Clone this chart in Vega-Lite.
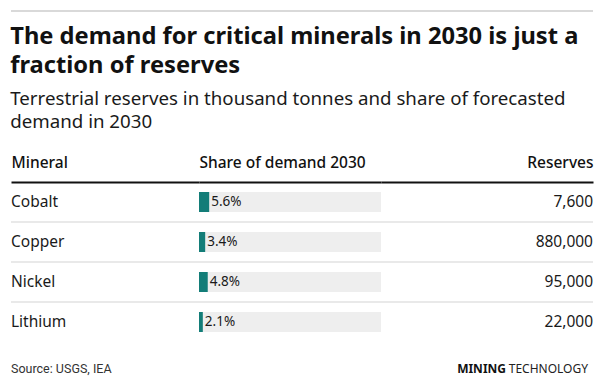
{
  "$schema": "https://vega.github.io/schema/vega-lite/v6.json",
  "padding": {"top": 10, "left": 10, "right": 10, "bottom": 0},
  "background": "white",
  "config": {
    "view": {"stroke": null},
    "font": "Noto Sans",
    "concat": {"spacing": 0}
  },
  "datasets": {
    "minerals": [
      {"Mineral": "Cobalt", "Share": 0.056, "Reserves": 7600},
      {"Mineral": "Copper", "Share": 0.034, "Reserves": 880000},
      {"Mineral": "Nickel", "Share": 0.048, "Reserves": 95000},
      {"Mineral": "Lithium", "Share": 0.021, "Reserves": 22000}
    ]
  },
  "spacing": 12,
  "vconcat": [
    {
      "width": 582,
      "height": 1,
      "data": {"values": [{}]},
      "mark": {"type": "rule", "color": "#d9d9d9", "strokeWidth": 2},
      "encoding": {"y": {"datum": 1, "type": "quantitative", "scale": {"domain": [0, 1]}, "axis": null}}
    },
    {
      "title": {
        "text": ["The demand for critical minerals in 2030 is just a", "fraction of reserves"],
        "subtitle": ["Terrestrial reserves in thousand tonnes and share of forecasted", "demand in 2030"],
        "anchor": "start",
        "font": "Noto Sans",
        "fontSize": 23.7,
        "fontWeight": "bold",
        "color": "#111111",
        "lineHeight": 29,
        "subtitleFont": "Noto Sans",
        "subtitleFontSize": 18.7,
        "subtitleColor": "#1a1a1a",
        "subtitleLineHeight": 23,
        "subtitlePadding": 13,
        "offset": 23
      },
      "data": {"name": "minerals"},
      "spacing": 0,
      "bounds": "flush",
      "hconcat": [
        {
          "width": 188,
          "height": 160,
          "layer": [
            {
              "mark": {"type": "text", "align": "left", "baseline": "middle", "fontSize": 15.5, "color": "#1a1a1a"},
              "encoding": {
                "x": {"datum": 0, "type": "quantitative", "scale": {"domain": [0, 1]},
                  "axis": {"orient": "top", "title": "Mineral", "labels": false, "ticks": false, "grid": false,
                    "domainColor": "#111111", "domainWidth": 2, "titleAnchor": "start", "titleAlign": "left",
                    "titleFontSize": 15.5, "titleFontWeight": 500, "titleColor": "#111111", "titlePadding": 12}},
                "y": {"field": "Mineral", "type": "nominal", "sort": null, "axis": null, "scale": {"paddingInner": 0, "paddingOuter": 0}},
                "text": {"field": "Mineral"}
              }
            },
            {
              "transform": [{"filter": "datum.Mineral != 'Lithium'"}],
              "mark": {"type": "rule", "color": "#e2e2e2", "strokeWidth": 1.5},
              "encoding": {"y": {"field": "Mineral", "type": "nominal", "sort": null, "bandPosition": 1}}
            }
          ]
        },
        {
          "width": 182,
          "height": 160,
          "layer": [
            {
              "mark": {"type": "bar", "color": "#eeeeee", "height": {"band": 0.5}},
              "encoding": {
                "x": {"datum": 1, "type": "quantitative", "scale": {"domain": [0, 1]},
                  "axis": {"orient": "top", "title": "Share of demand 2030", "labels": false, "ticks": false, "grid": false,
                    "domainColor": "#111111", "domainWidth": 2, "titleAnchor": "start", "titleAlign": "left",
                    "titleFontSize": 15.5, "titleFontWeight": 500, "titleColor": "#111111", "titlePadding": 12}},
                "y": {"field": "Mineral", "type": "nominal", "sort": null, "axis": null, "scale": {"paddingInner": 0, "paddingOuter": 0}}
              }
            },
            {
              "mark": {"type": "bar", "color": "#137d78", "height": {"band": 0.5}},
              "encoding": {
                "x": {"field": "Share", "type": "quantitative"},
                "y": {"field": "Mineral", "type": "nominal", "sort": null}
              }
            },
            {
              "mark": {"type": "text", "align": "left", "baseline": "middle", "dx": 2, "fontSize": 13.5, "color": "#1a1a1a"},
              "encoding": {
                "x": {"field": "Share", "type": "quantitative"},
                "y": {"field": "Mineral", "type": "nominal", "sort": null},
                "text": {"field": "Share", "type": "quantitative", "format": ".1%"}
              }
            },
            {
              "transform": [{"filter": "datum.Mineral != 'Lithium'"}],
              "mark": {"type": "rule", "color": "#e2e2e2", "strokeWidth": 1.5},
              "encoding": {"y": {"field": "Mineral", "type": "nominal", "sort": null, "bandPosition": 1}}
            }
          ]
        },
        {
          "width": 212,
          "height": 160,
          "layer": [
            {
              "mark": {"type": "text", "align": "right", "baseline": "middle", "fontSize": 15.5, "color": "#1a1a1a"},
              "encoding": {
                "x": {"datum": 1, "type": "quantitative", "scale": {"domain": [0, 1]},
                  "axis": {"orient": "top", "title": "Reserves", "labels": false, "ticks": false, "grid": false,
                    "domainColor": "#111111", "domainWidth": 2, "titleAnchor": "end", "titleAlign": "right",
                    "titleFontSize": 15.5, "titleFontWeight": 500, "titleColor": "#111111", "titlePadding": 12}},
                "y": {"field": "Mineral", "type": "nominal", "sort": null, "axis": null, "scale": {"paddingInner": 0, "paddingOuter": 0}},
                "text": {"field": "Reserves", "type": "quantitative", "format": ","}
              }
            },
            {
              "transform": [{"filter": "datum.Mineral != 'Lithium'"}],
              "mark": {"type": "rule", "color": "#e2e2e2", "strokeWidth": 1.5},
              "encoding": {"y": {"field": "Mineral", "type": "nominal", "sort": null, "bandPosition": 1}}
            }
          ]
        }
      ]
    },
    {
      "width": 582,
      "height": 30,
      "data": {"values": [{}]},
      "layer": [
        {
          "mark": {"type": "text", "text": "Source: USGS, IEA", "align": "left", "baseline": "middle", "font": "Roboto", "fontSize": 12.5, "color": "#333333"},
          "encoding": {"x": {"datum": 0, "type": "quantitative", "scale": {"domain": [0, 1]}, "axis": null}}
        },
        {
          "mark": {"type": "text", "text": "TECHNOLOGY", "align": "right", "baseline": "middle", "fontSize": 12, "dx": -5, "color": "#222222"},
          "encoding": {"x": {"datum": 1, "type": "quantitative"}}
        },
        {
          "mark": {"type": "text", "text": "MINING", "align": "right", "baseline": "middle", "fontSize": 12, "fontWeight": "bold", "dx": -87, "color": "#111111"},
          "encoding": {"x": {"datum": 1, "type": "quantitative"}}
        }
      ]
    }
  ]
}
